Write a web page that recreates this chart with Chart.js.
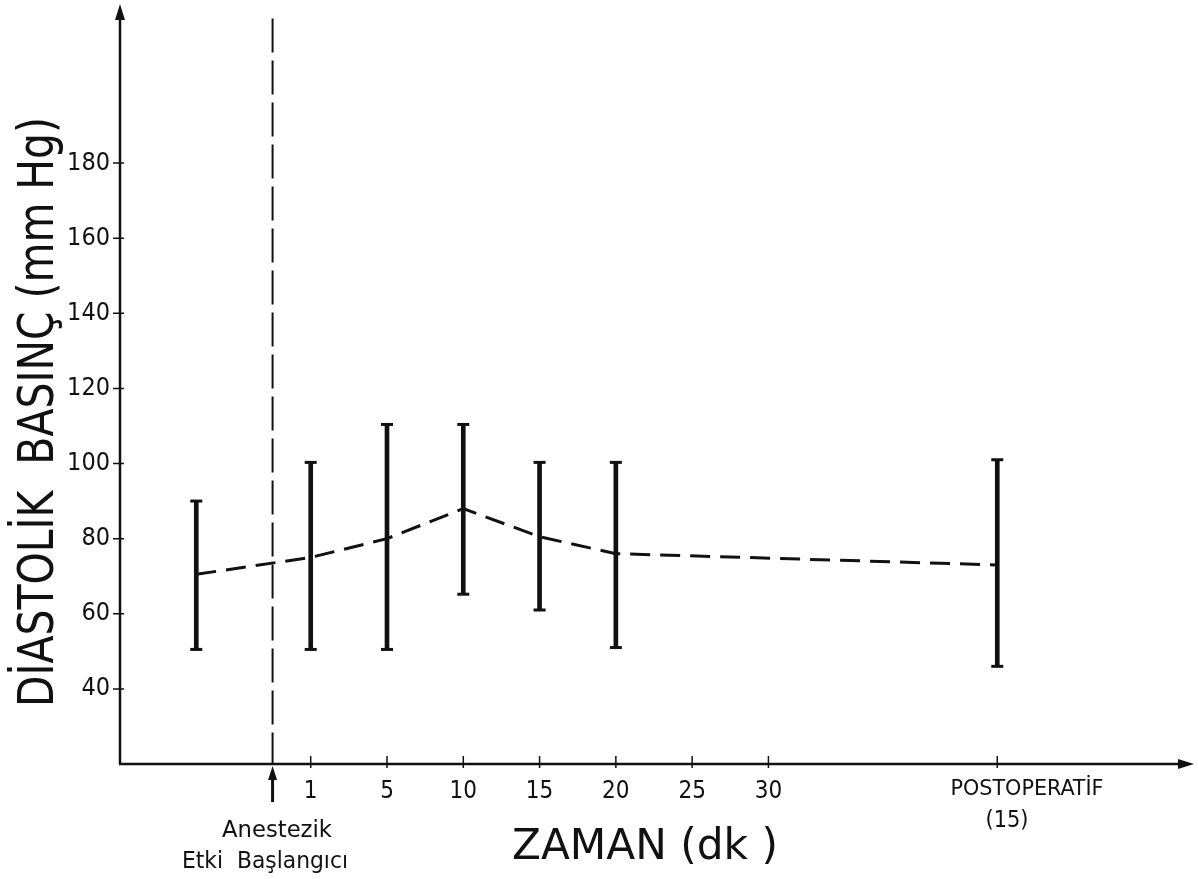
<!DOCTYPE html>
<html>
<head>
<meta charset="utf-8">
<title>Diastolik basınç</title>
<script src="https://cdn.jsdelivr.net/npm/chart.js@4/dist/chart.umd.min.js"></script>
<style>
    html, body { margin: 0; padding: 0; background: #fff; }
    #wrap { width: 1198px; height: 879px; }
</style>
</head>
<body>
<div id="wrap"><canvas id="bpChart" width="1198" height="879"></canvas></div>
<script>
// Data
const timeLabels = ['1', '5', '10', '15', '20', '25', '30'];
const timeTickPositions = [1, 2, 3, 4, 5, 6, 7];
const pointPositions = [-0.5, 1, 2, 3, 4, 5, 10];   // baseline, 1, 5, 10, 15, 20 dk, postoperatif
const meanValues = [70.5, 75, 80, 88, 80.5, 76, 73];
const lowValues = [50.5, 50.5, 50.5, 65.2, 61, 51, 46];
const highValues = [90, 100.3, 110.4, 110.4, 100.3, 100.3, 101];
const yTickValues = [40, 60, 80, 100, 120, 140, 160, 180];
const onsetPosition = 0.5;
const postopPosition = 10;

const FONT = "'Liberation Sans Narrow', 'DejaVu Sans Condensed', 'Liberation Sans', sans-serif";
const INK = '#111';

// draw text squeezed / stretched to a given width
function fitText(ctx, text, x, y, width, size, align) {
    ctx.save();
    ctx.font = size + 'px ' + FONT;
    const w = ctx.measureText(text).width;
    const sx = width / w;
    ctx.translate(x, y);
    ctx.scale(sx, 1);
    ctx.textAlign = align || 'center';
    ctx.textBaseline = 'alphabetic';
    ctx.fillText(text, 0, 0);
    ctx.restore();
}

function arrowHead(ctx, x, y, dir, len, half) {
    ctx.beginPath();
    if (dir === 'up') {
        ctx.moveTo(x, y); ctx.lineTo(x - half, y + len); ctx.lineTo(x + half, y + len);
    } else {
        ctx.moveTo(x, y); ctx.lineTo(x - len, y - half); ctx.lineTo(x - len, y + half);
    }
    ctx.closePath();
    ctx.fill();
}

const decorPlugin = {
    id: 'decor',
    afterDraw(chart) {
        const ctx = chart.ctx;
        const xs = chart.scales.x, ys = chart.scales.y;
        const area = chart.chartArea;
        ctx.save();
        ctx.strokeStyle = INK;
        ctx.fillStyle = INK;
        ctx.lineCap = 'butt';

        // axes with arrows
        ctx.lineWidth = 2.5;
        ctx.beginPath();
        ctx.moveTo(area.left, area.bottom);
        ctx.lineTo(area.left, 14);
        ctx.moveTo(area.left - 1, area.bottom);
        ctx.lineTo(1182, area.bottom);
        ctx.stroke();
        arrowHead(ctx, area.left, 4, 'up', 16, 5);
        arrowHead(ctx, 1194, area.bottom, 'right', 16, 5);

        // crossing tick marks
        ctx.lineWidth = 1.5;
        ctx.beginPath();
        yTickValues.forEach(v => {
            const py = ys.getPixelForValue(v);
            ctx.moveTo(area.left - 7, py); ctx.lineTo(area.left + 4, py);
        });
        timeTickPositions.concat([postopPosition]).forEach(v => {
            const px = xs.getPixelForValue(v);
            ctx.moveTo(px, area.bottom - 8); ctx.lineTo(px, area.bottom + 4);
        });
        ctx.stroke();

        // onset arrow under the axis
        const ox = xs.getPixelForValue(onsetPosition);
        ctx.lineWidth = 3;
        ctx.beginPath();
        ctx.moveTo(ox, 802); ctx.lineTo(ox, 776);
        ctx.stroke();
        arrowHead(ctx, ox, 766, 'up', 14, 4.5);

        // texts
        fitText(ctx, 'Anestezik', 277, 837, 110, 23);
        fitText(ctx, 'Etki  Başlangıcı', 265, 868, 166, 23);
        fitText(ctx, 'POSTOPERATİF', 1027, 795, 153, 22);
        fitText(ctx, '(15)', 1007, 827, 43, 23);
        fitText(ctx, 'ZAMAN (dk )', 645, 859, 266, 42);

        // y title, rotated
        ctx.save();
        ctx.translate(53, 412);
        ctx.rotate(-Math.PI / 2);
        fitText(ctx, 'DİASTOLİK  BASINÇ (mm Hg)', 0, 0, 590, 50);
        ctx.restore();

        ctx.restore();
    }
};

const ctx = document.getElementById('bpChart').getContext('2d');

new Chart(ctx, {
    type: 'bar',
    data: {
        datasets: [{
            // error bar stems
            type: 'bar',
            data: pointPositions.map((p, i) => ({ x: p, y: [lowValues[i], highValues[i]] })),
            backgroundColor: INK,
            borderWidth: 0,
            barThickness: 4,
            order: 3
        }, {
            // caps
            type: 'scatter',
            data: pointPositions.map((p, i) => ({ x: p, y: lowValues[i] }))
                .concat(pointPositions.map((p, i) => ({ x: p, y: highValues[i] }))),
            pointStyle: 'line',
            pointRadius: 6,
            pointBorderWidth: 3,
            borderColor: INK,
            backgroundColor: INK,
            order: 2
        }, {
            // means
            type: 'line',
            data: pointPositions.map((p, i) => ({ x: p, y: meanValues[i] })),
            borderColor: INK,
            borderWidth: 3,
            borderDash: [20, 10],
            pointRadius: 0,
            tension: 0,
            order: 1
        }, {
            // anesthetic onset line, drawn top to bottom
            type: 'line',
            data: [{ x: onsetPosition, y: 218.5 }, { x: onsetPosition, y: 20 }],
            borderColor: INK,
            borderWidth: 2,
            borderDash: [34, 8],
            pointRadius: 0,
            order: 4
        }]
    },
    options: {
        responsive: false,
        animation: false,
        events: [],
        layout: { padding: { top: 8, right: 10, left: 0, bottom: 0 } },
        plugins: {
            legend: { display: false },
            tooltip: { enabled: false }
        },
        scales: {
            x: {
                type: 'linear',
                min: -1.5,
                max: 12.5,
                offset: false,
                grid: { display: false, drawTicks: false },
                border: { display: false },
                afterFit(scale) {
                    scale.height = 115;
                    scale.paddingLeft = 0;
                    scale.paddingRight = 0;
                },
                afterBuildTicks(scale) {
                    scale.ticks = timeTickPositions.map(v => ({ value: v }));
                },
                ticks: {
                    padding: 13,
                    color: INK,
                    maxRotation: 0,
                    autoSkip: false,
                    font: { family: FONT, size: 24 },
                    callback: (value) => timeLabels[timeTickPositions.indexOf(value)] || ''
                }
            },
            y: {
                min: 20,
                max: 221,
                grid: { display: false, drawTicks: false },
                border: { display: false },
                afterFit(scale) {
                    scale.width = 120;
                    scale.paddingTop = 0;
                    scale.paddingBottom = 0;
                },
                afterBuildTicks(scale) {
                    scale.ticks = yTickValues.map(v => ({ value: v }));
                },
                ticks: {
                    padding: 10,
                    color: INK,
                    font: { family: FONT, size: 25 }
                }
            }
        }
    },
    plugins: [decorPlugin]
});
</script>
</body>
</html>
